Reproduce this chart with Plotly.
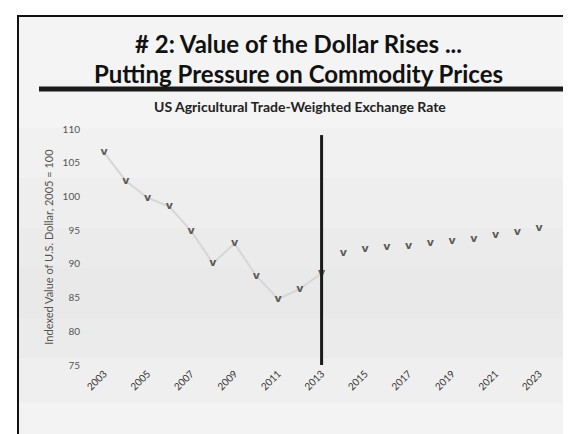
import plotly.graph_objects as go

# ---- data ----
years = list(range(2003, 2024))
index_values = [106.5, 102.3, 99.8, 98.5, 94.9, 90.1, 93.0, 88.2, 84.8, 86.3,
                88.6, 91.6, 92.1, 92.5, 92.6, 93.0, 93.3, 93.7, 94.2, 94.7, 95.3]
history_end = 2013
tick_years = list(range(2003, 2024, 2))
tick_labels = [str(y) for y in tick_years]
y_ticks = [75, 80, 85, 90, 95, 100, 105, 110]
divider_year = 2013
divider_top = 109.1

# ---- layout geometry ----
W, H = 571, 434
L, R, T, B = 80, 21, 121, 77
PW, PH = W - L - R, H - T - B


def px(xp):
    return (xp - L) / PW


def py(yp):
    return (H - B - yp) / PH


hist_x = [y for y in years if y <= history_end]
hist_y = [v for y, v in zip(years, index_values) if y <= history_end]

fig = go.Figure()

# faint connecting line for the historical part
fig.add_trace(go.Scatter(
    x=hist_x, y=hist_y, mode="lines",
    line=dict(color="#d6d6d6", width=2),
    hoverinfo="skip", showlegend=False))

# "v" shaped markers
fig.add_trace(go.Scatter(
    x=years, y=index_values, mode="text",
    text=["<b>v</b>"] * len(years),
    textposition="middle center",
    textfont=dict(family="DejaVu Sans", size=11, color="#5a5a5a"),
    showlegend=False))

shapes = []
# slide background / frame
shapes.append(dict(type="rect", xref="paper", yref="paper",
                   x0=px(10), x1=px(590), y0=py(450), y1=py(8),
                   fillcolor="#f4f4f4", line=dict(color="#111111", width=2),
                   layer="below"))
# soft gradient bands
bands = [(120, 170, "#f1f1f1"), (170, 220, "#eeeeee"), (220, 260, "#ebebeb"),
         (260, 310, "#e9e9e9"), (310, 350, "#ebebeb"), (350, 395, "#efefef"),
         (395, 432, "#f3f3f3")]
for y0, y1, c in bands:
    shapes.append(dict(type="rect", xref="paper", yref="paper",
                       x0=px(11), x1=px(575), y0=py(y1), y1=py(y0),
                       fillcolor=c, line=dict(width=0), layer="below"))
# title rule
shapes.append(dict(type="line", xref="paper", yref="paper",
                   x0=px(31), x1=px(556), y0=py(81), y1=py(81),
                   line=dict(color="#1a1a1a", width=5)))
# divider line at 2013
shapes.append(dict(type="line", xref="x", yref="y",
                   x0=divider_year, x1=divider_year, y0=75, y1=divider_top,
                   line=dict(color="#1a1a1a", width=3)))

annotations = [
    dict(text="<b># 2: Value of the Dollar Rises ...</b>", xref="paper", yref="paper",
         x=px(290), y=py(35), xanchor="center", yanchor="middle", showarrow=False,
         font=dict(family="Lato", size=24, color="#111111")),
    dict(text="<b>Putting Pressure on Commodity Prices</b>", xref="paper", yref="paper",
         x=px(290), y=py(65), xanchor="center", yanchor="middle", showarrow=False,
         font=dict(family="Lato", size=24, color="#111111")),
    dict(text="<b>US Agricultural Trade-Weighted Exchange Rate</b>", xref="paper", yref="paper",
         x=px(292), y=py(98), xanchor="center", yanchor="middle", showarrow=False,
         font=dict(family="Lato", size=14, color="#222222")),
]

fig.update_layout(
    width=W, height=H,
    margin=dict(l=L, r=R, t=T, b=B),
    paper_bgcolor="#ffffff",
    plot_bgcolor="rgba(0,0,0,0)",
    shapes=shapes,
    annotations=annotations,
    font=dict(family="Lato", color="#555555"),
    xaxis=dict(range=[2002.26, 2023.87], tickvals=tick_years, ticktext=tick_labels,
               tickangle=-45, showgrid=False, zeroline=False, showline=False,
               ticks="", tickfont=dict(size=10, color="#333333")),
    yaxis=dict(range=[75, 110], tickvals=y_ticks, showgrid=False, zeroline=False,
               showline=False, ticks="outside", ticklen=5, tickcolor="rgba(0,0,0,0)",
               tickfont=dict(size=10, color="#555555"),
               title=dict(text="Indexed Value of U.S. Dollar, 2005 = 100",
                          font=dict(size=11, color="#555555"), standoff=6)),
)

fig.write_html("out.html")
